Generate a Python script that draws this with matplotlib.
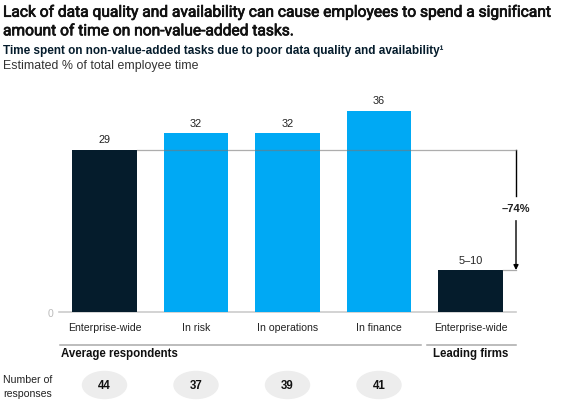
import matplotlib.pyplot as plt
import matplotlib.patheffects as pe
from matplotlib.patches import Ellipse

plt.rcParams['font.family'] = ['Liberation Sans', 'DejaVu Sans']

categories = ['Enterprise-wide', 'In risk', 'In operations', 'In finance', 'Enterprise-wide']
values = [29, 32, 32, 36, 7.5]
value_labels = ['29', '32', '32', '36', '5–10']
responses = [44, 37, 39, 41]
change_label = '–74%'

navy = '#051c2c'
blue = '#00a9f4'
colors = [navy, blue, blue, blue, navy]

W, H = 577, 402
fig = plt.figure(figsize=(W / 100, H / 100), dpi=100)

def fx(p):
    return p / W

def fy(p):
    return (H - p) / H

# axes: baseline at pixel 313, 5.59 px per unit, 91.5 px per bar
x0 = 59
ax = fig.add_axes([fx(x0), fy(313), fx(530 - x0), 40 * 5.59 / H])
xmin = (x0 - 104.5) / 91.5
xmax = (530 - 104.5) / 91.5
ax.set_xlim(xmin, xmax)
ax.set_ylim(0, 40)
for s in ax.spines.values():
    s.set_visible(False)

xs = list(range(len(values)))
bw = 0.70
ax.bar(xs, values, width=bw, color=colors, zorder=2)

for x, v, lab in zip(xs, values, value_labels):
    ax.annotate(lab, (x, v), xytext=(0, 4), textcoords='offset points',
                ha='center', va='bottom', fontsize=7.8, color='#222222')

ax.set_xticks(xs)
ax.set_xticklabels(categories, fontsize=7.6, color='#222222')
ax.set_yticks([0])
ax.set_yticklabels(['0'], fontsize=7.6, color='#bbbbbb')
ax.tick_params(length=0)
ax.tick_params(axis='x', pad=7)
ax.tick_params(axis='y', pad=4)

# baseline
xr = (516 - 104.5) / 91.5
ax.plot([xmin, xr], [0, 0], color='#cccccc', lw=1.2, clip_on=False, zorder=1)

# reference line and arrow
ax.plot([xs[0] + bw / 2, xr], [values[0], values[0]], color='#777777', lw=0.9,
        alpha=0.6, zorder=3, clip_on=False)
ax.plot([xs[4] + bw / 2, xr], [values[4], values[4]], color='#aaaaaa', lw=0.9,
        zorder=3, clip_on=False)
mid = (values[0] + values[4]) / 2 + 0.3
ax.annotate('', xy=(xr, values[4]), xytext=(xr, mid - 2.2),
            arrowprops=dict(arrowstyle='-|>', color='black', lw=1.0,
                            mutation_scale=7, shrinkA=0, shrinkB=0),
            annotation_clip=False)
ax.plot([xr, xr], [values[0], mid + 2.2], color='black', lw=1.0, clip_on=False)
ax.text(xr, mid, change_label, ha='center', va='center', fontsize=8,
        fontweight='bold', color='#222222', clip_on=False)

# group separators and labels
ysep = (313 - 346) / 5.59
ax.plot([(60 - 104.5) / 91.5, (421 - 104.5) / 91.5], [ysep, ysep],
        color='#aaaaaa', lw=1.1, clip_on=False)
ax.plot([(427 - 104.5) / 91.5, xr], [ysep, ysep],
        color='#aaaaaa', lw=1.1, clip_on=False)
fig.text(fx(61), fy(354), 'Average respondents', fontsize=8.3, fontweight='bold',
         color='#111111', va='center', ha='left')
fig.text(fx(471), fy(354), 'Leading firms', fontsize=8.3, fontweight='bold',
         color='#111111', va='center', ha='center')

# number of responses
yell = (313 - 386) / 5.59
for x, n in zip(xs, responses):
    ax.add_patch(Ellipse((x, yell), 44 / 91.5, 27 / 5.59, color='#ededed',
                         clip_on=False, zorder=1))
    ax.text(x, yell, str(n), ha='center', va='center', fontsize=8.3,
            fontweight='bold', color='#111111', clip_on=False)
fig.text(fx(3), fy(387), 'Number of\nresponses', fontsize=7.6, color='#222222',
         va='center', ha='left', linespacing=1.45)

# titles
fig.text(fx(3), fy(22), 'Lack of data quality and availability can cause employees to spend a significant\n'
         'amount of time on non-value-added tasks.', fontsize=11.2,
         family=['Roboto', 'DejaVu Sans'],
         color='#111111', va='center', ha='left', linespacing=1.3,
         path_effects=[pe.withStroke(linewidth=0.5, foreground='#111111')])
fig.text(fx(3), fy(51), 'Time spent on non-value-added tasks due to poor data quality and availability¹',
         fontsize=8.5, fontweight='bold', color='#051c2c', va='center', ha='left')
fig.text(fx(3), fy(66), 'Estimated % of total employee time', fontsize=8.9,
         color='#333333', va='center', ha='left')

fig.savefig('out.png', dpi=100)
